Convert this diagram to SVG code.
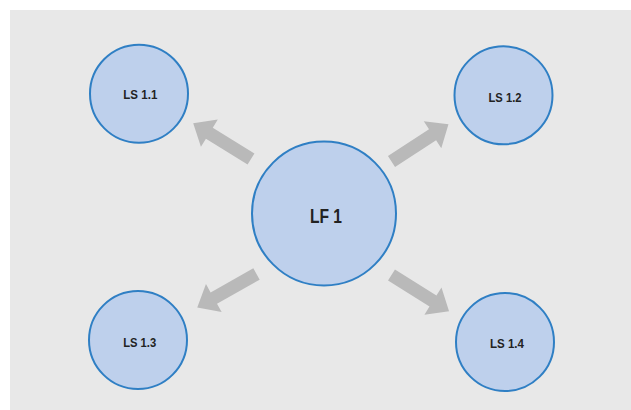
<svg xmlns="http://www.w3.org/2000/svg" width="631" height="410" viewBox="0 0 631 410">
<style>
.node circle{fill:#bed0ec;stroke:#2f7fc4;stroke-width:2}
.node text{font-family:"Liberation Sans",Arial,sans-serif;font-weight:bold;fill:#222;text-anchor:middle}
.ls{font-size:13px}
.lf{font-size:21px}
.arrow{fill:#b9b9b9}
</style>
<defs>
<polygon id="blk" points="0,-6.5 49,-6.5 49,-16 68,0 49,16 49,6.5 0,6.5"/>
</defs>
<rect x="0" y="0" width="631" height="410" fill="#ffffff"/>
<rect x="10" y="10" width="621" height="400" fill="#e8e8e8"/>
<g id="connectors">
<use href="#blk" class="arrow" transform="translate(251,159) rotate(211.8)"/>
<use href="#blk" class="arrow" transform="translate(391.5,161.5) rotate(-33.1)"/>
<use href="#blk" class="arrow" transform="translate(256.5,274) rotate(150.6)"/>
<use href="#blk" class="arrow" transform="translate(391.5,275) rotate(32.2)"/>
</g>
<g id="lf1" class="node">
<circle cx="324" cy="213.5" r="72"/>
<text class="lf" x="326" y="223" textLength="32" lengthAdjust="spacingAndGlyphs">LF 1</text>
</g>
<g id="ls11" class="node">
<circle cx="139" cy="93.7" r="49"/>
<text class="ls" x="140.3" y="99" textLength="34" lengthAdjust="spacingAndGlyphs">LS 1.1</text>
</g>
<g id="ls12" class="node">
<circle cx="503.5" cy="95.3" r="49"/>
<text class="ls" x="505" y="101.5" textLength="33" lengthAdjust="spacingAndGlyphs">LS 1.2</text>
</g>
<g id="ls13" class="node">
<circle cx="138" cy="340" r="49"/>
<text class="ls" x="139.7" y="347" textLength="33" lengthAdjust="spacingAndGlyphs">LS 1.3</text>
</g>
<g id="ls14" class="node">
<circle cx="505" cy="342" r="49"/>
<text class="ls" x="507" y="348" textLength="34" lengthAdjust="spacingAndGlyphs">LS 1.4</text>
</g>
</svg>
